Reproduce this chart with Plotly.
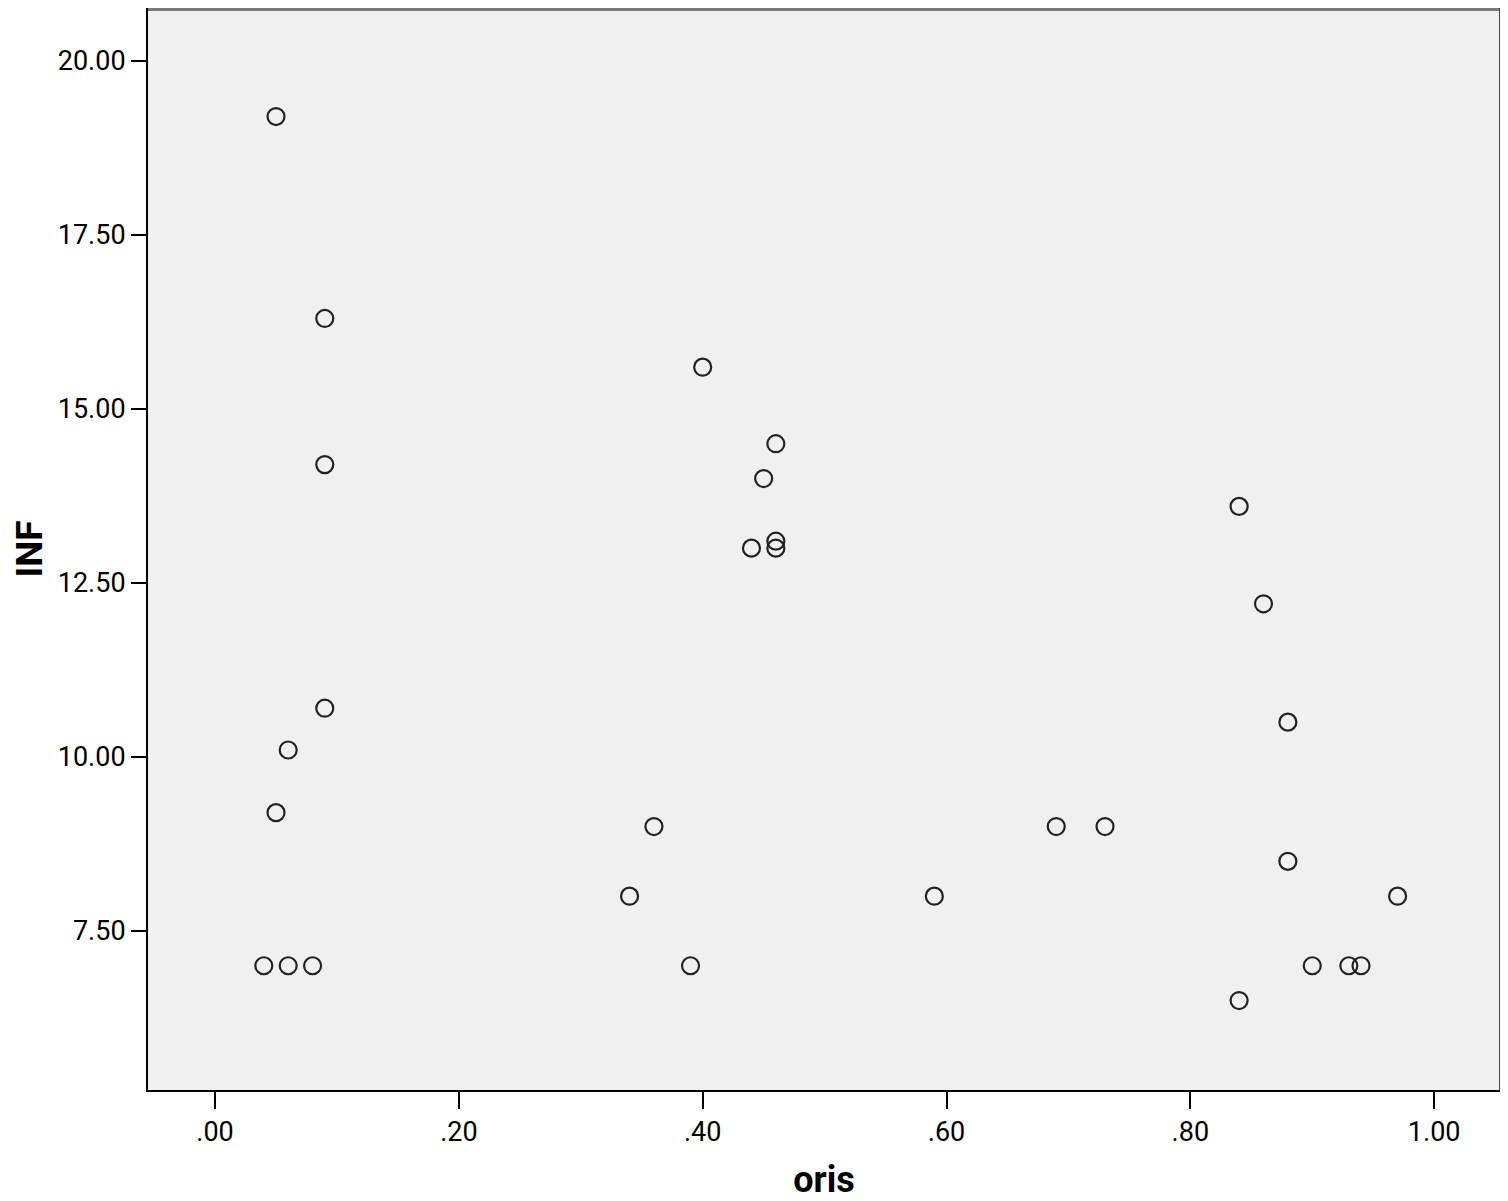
import plotly.graph_objects as go

oris = [0.05, 0.09, 0.09, 0.09, 0.06, 0.05, 0.04, 0.06, 0.08,
        0.40, 0.46, 0.45, 0.44, 0.46, 0.46, 0.36, 0.34, 0.39,
        0.59, 0.69, 0.73,
        0.84, 0.86, 0.88, 0.88, 0.97, 0.90, 0.93, 0.94, 0.84]
inf = [19.2, 16.3, 14.2, 10.7, 10.1, 9.2, 7.0, 7.0, 7.0,
       15.6, 14.5, 14.0, 13.0, 13.1, 13.0, 9.0, 8.0, 7.0,
       8.0, 9.0, 9.0,
       13.6, 12.2, 10.5, 8.5, 8.0, 7.0, 7.0, 7.0, 6.5]

x_ticks = [0.0, 0.2, 0.4, 0.6, 0.8, 1.0]
x_labels = [".00", ".20", ".40", ".60", ".80", "1.00"]
y_ticks = [7.5, 10.0, 12.5, 15.0, 17.5, 20.0]
y_labels = ["7.50", "10.00", "12.50", "15.00", "17.50", "20.00"]

fig = go.Figure()
fig.add_trace(go.Scatter(
    x=oris, y=inf, mode="markers",
    marker=dict(symbol="circle-open", size=17, color="#222222",
                line=dict(width=2.2, color="#222222")),
    showlegend=False, hoverinfo="x+y"))

font_family = "Roboto, DejaVu Sans, sans-serif"
fig.update_layout(
    width=1500, height=1193,
    margin=dict(l=140, r=8, t=0, b=111),
    paper_bgcolor="white", plot_bgcolor="#f0f0f0",
    font=dict(family=font_family, color="black", size=27),
    xaxis=dict(range=[-0.055, 1.054], tickvals=x_ticks, ticktext=x_labels,
               showgrid=False, zeroline=False, showline=True, linecolor="black",
               linewidth=2, ticks="outside", ticklen=17, tickwidth=2, tickcolor="black",
               tickfont=dict(size=27), automargin=False,
               title=dict(text="<b>oris</b>", font=dict(size=36), standoff=22)),
    yaxis=dict(range=[5.215, 20.76], tickvals=y_ticks, ticktext=y_labels,
               showgrid=False, zeroline=False, showline=True, linecolor="black",
               linewidth=2, ticks="outside", ticklen=15, tickwidth=2, tickcolor="black",
               tickfont=dict(size=27), automargin=False,
               title=dict(text="<b>INF</b>", font=dict(size=37), standoff=15)),
    shapes=[
        dict(type="line", xref="paper", yref="paper", x0=0, x1=1, y0=1, y1=1,
             line=dict(color="#7a7a7a", width=6)),
        dict(type="line", xref="paper", yref="paper", x0=1, x1=1, y0=0, y1=1,
             line=dict(color="#404040", width=2)),
    ],
)

fig.write_html("out.html")
